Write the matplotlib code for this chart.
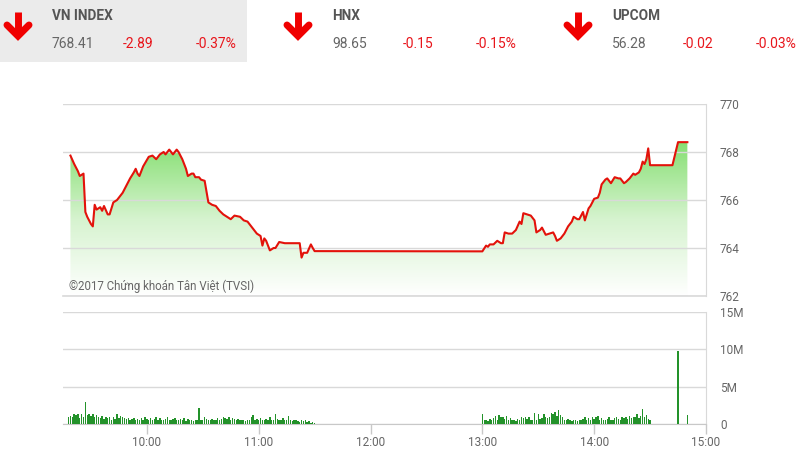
import numpy as np
import pandas as pd
import matplotlib
matplotlib.use("Agg")
import matplotlib.pyplot as plt
from matplotlib.colors import LinearSegmentedColormap

plt.rcParams['font.family'] = ['Roboto', 'DejaVu Sans']

# header quotes
idx_names = ['VN INDEX', 'HNX', 'UPCOM']
idx_values = ['768.41', '98.65', '56.28']
idx_change = ['-2.89', '-0.15', '-0.02']
idx_pct = ['-0.37%', '-0.15%', '-0.03%']

# VN-Index intraday
price_times = [
    '09:19', '09:21', '09:23', '09:24', '09:26', '09:27', '09:28', '09:30', '09:31', '09:32',
    '09:33', '09:35', '09:36', '09:37', '09:39', '09:40', '09:42', '09:44', '09:45', '09:47',
    '09:49', '09:51', '09:53', '09:54', '09:55', '09:56', '09:58', '10:01', '10:03', '10:05',
    '10:07', '10:09', '10:10', '10:12', '10:14', '10:16', '10:17', '10:19', '10:21', '10:22',
    '10:24', '10:25', '10:26', '10:28', '10:29', '10:31', '10:33', '10:35', '10:37', '10:39',
    '10:41', '10:43', '10:45', '10:47', '10:50', '10:52', '10:54', '10:56', '10:57', '10:59',
    '11:01', '11:02', '11:03', '11:04', '11:06', '11:08', '11:09', '11:11', '11:14', '11:17',
    '11:20', '11:22', '11:23', '11:24', '11:26', '11:28', '11:29', '11:30', '13:00', '13:02',
    '13:03', '13:04', '13:06', '13:08', '13:10', '13:11', '13:12', '13:14', '13:16', '13:18',
    '13:20', '13:21', '13:22', '13:24', '13:26', '13:28', '13:29', '13:31', '13:32', '13:34',
    '13:36', '13:38', '13:39', '13:40', '13:42', '13:44', '13:46', '13:48', '13:49', '13:51',
    '13:52', '13:54', '13:55', '13:56', '13:57', '13:58', '14:00', '14:02', '14:03', '14:04',
    '14:06', '14:07', '14:09', '14:11', '14:13', '14:14', '14:16', '14:17', '14:19', '14:21',
    '14:22', '14:24', '14:25', '14:26', '14:27', '14:28', '14:29', '14:30', '14:42', '14:45',
    '14:50',
]
price_values = [
    767.85, 767.5, 767.2, 767.0, 767.1, 765.5, 765.3, 765.0, 764.9, 765.8,
    765.6, 765.7, 765.55, 765.75, 765.4, 765.4, 765.9, 766.0, 766.1, 766.3,
    766.6, 766.9, 767.15, 767.3, 767.1, 767.0, 767.4, 767.8, 767.85, 767.7,
    767.9, 768.0, 767.9, 768.1, 767.9, 768.1, 768.0, 767.7, 767.3, 767.0,
    767.1, 767.1, 766.95, 766.95, 766.85, 766.8, 765.9, 765.8, 765.75, 765.55,
    765.4, 765.3, 765.2, 765.35, 765.3, 765.15, 765.1, 764.9, 764.8, 764.6,
    764.5, 764.1, 764.4, 764.3, 763.9, 764.0, 764.0, 764.25, 764.2, 764.2,
    764.2, 764.2, 763.6, 763.8, 763.8, 764.15, 764.0, 763.87, 763.86, 764.1,
    764.05, 764.15, 764.15, 764.3, 764.2, 764.2, 764.65, 764.6, 764.6, 764.75,
    765.1, 765.0, 765.45, 765.4, 765.35, 765.15, 764.65, 764.75, 764.85, 764.55,
    764.6, 764.65, 764.5, 764.3, 764.4, 764.6, 764.9, 765.1, 765.3, 765.2,
    765.2, 765.5, 765.15, 765.4, 765.65, 765.75, 766.05, 766.1, 766.3, 766.65,
    766.85, 766.9, 766.7, 766.95, 766.9, 766.9, 766.7, 766.75, 766.9, 767.1,
    767.05, 767.15, 767.3, 767.6, 767.5, 767.7, 768.15, 767.45, 767.45, 768.41,
    768.41,
]

# volume per minute (millions of shares)
vol_am_start = '09:18'
vol_am = [
    1.0, 1.1, 0.9, 1.3, 1.2, 1.4, 0.8, 1.3, 1.0, 3.0, 1.2, 1.3, 1.1,
    1.3, 1.0, 1.2, 0.9, 0.8, 1.1, 0.7, 0.9, 0.8, 1.0, 0.6, 0.9, 0.7, 1.3, 0.8,
    1.1, 0.9, 0.8, 0.7, 0.8, 0.6, 0.7, 0.8, 0.6, 0.7, 0.5, 0.8, 0.6, 0.9, 0.7,
    0.6, 0.8, 0.5, 0.7, 0.9, 0.6, 0.8, 0.5, 0.6, 0.7, 0.9, 0.5, 0.6, 0.7, 0.8,
    0.6, 0.5, 0.7, 0.6, 0.8, 0.4, 0.7, 0.6, 0.5, 0.4, 0.6, 0.5, 2.1, 0.5, 0.6,
    0.9, 0.7, 0.5, 0.6, 0.7, 0.5, 0.6, 0.8, 0.6, 0.7, 0.9, 0.8, 0.7, 1.0, 0.6,
    0.8, 0.7, 0.6, 0.7, 0.5, 0.6, 0.5, 0.4, 0.6, 0.5, 1.0, 1.2, 0.6, 0.7, 0.5,
    0.8, 0.6, 0.5, 0.7, 0.6, 0.9, 0.5, 0.6, 1.3, 0.7, 0.5, 0.6, 0.8, 0.5, 0.6,
    1.1, 0.5, 0.4, 0.6, 0.5, 0.4, 0.3, 0.5, 0.4, 0.6, 0.3, 0.4, 0.2, 0.3, 0.2,
]
vol_pm_start = '13:00'
vol_pm = [
    1.3, 0.5, 0.6, 0.4, 0.7, 0.5, 0.8, 1.1, 0.6, 1.2, 0.9, 1.0, 0.7, 1.1, 0.6, 0.8,
    0.5, 0.6, 0.4, 0.7, 0.6, 0.9, 0.8, 1.0, 0.7, 0.9, 0.6, 0.5, 1.5, 0.6, 1.3,
    0.7, 0.8, 1.4, 0.9, 0.8, 1.0, 1.5, 1.3, 1.6, 1.1, 1.9, 1.2, 0.9, 0.6, 0.5,
    0.7, 0.5, 0.4, 0.6, 0.5, 0.4, 0.6, 0.5, 0.7, 0.9, 0.6, 0.8, 0.5, 1.0, 0.7,
    0.9, 1.1, 0.6, 0.8, 0.5, 0.6, 0.7, 0.9, 0.6, 0.5, 0.8, 1.0, 0.7, 0.6, 0.9,
    0.8, 1.0, 0.7, 1.1, 0.8, 0.9, 1.0, 1.3, 0.8, 1.1, 2.0, 0.9, 1.2, 0.7, 0.6,
]
vol_atc_times = ['14:45', '14:50']
vol_atc = [9.8, 1.2]

hour_ticks = ['10:00', '11:00', '12:00', '13:00', '14:00', '15:00']
price_ticks = [762, 764, 766, 768, 770]
vol_ticks = [0, 5, 10, 15]
vol_tick_labels = ['0', '5M', '10M', '15M']
credit = '©2017 Chứng khoán Tân Việt (TVSI)'


def to_min(t):
    h, m = t.split(':')
    return (int(h) - 9) * 60 + int(m)


px = np.array([to_min(t) for t in price_times], dtype=float)
py = np.array(price_values)
vx = np.concatenate([to_min(vol_am_start) + np.arange(len(vol_am)),
                     to_min(vol_pm_start) + np.arange(len(vol_pm)),
                     [to_min(t) for t in vol_atc_times]]).astype(float)
vy = np.concatenate([vol_am, vol_pm, vol_atc])

W, H = 800, 455
fig = plt.figure(figsize=(8, 4.55), dpi=100)

# header overlay in pixel units
ov = fig.add_axes([0, 0, 1, 1])
ov.set_xlim(0, W)
ov.set_ylim(H, 0)
ov.axis('off')
ov.add_patch(plt.Rectangle((0, 0), 247, 62, color='#ebebeb', lw=0))
red = '#e8151b'
for i in range(3):
    x0 = 18 + i * 280
    ov.plot([x0, x0], [12, 35], color='#f00000', lw=5, solid_capstyle='butt')
    ov.plot([x0 - 11, x0, x0 + 11], [25, 36, 25], color='#f00000', lw=5,
            solid_capstyle='round', solid_joinstyle='miter')
    tx = 52 + i * 280
    ov.text(tx, 16, idx_names[i], fontsize=9.8, fontweight='bold', color='#555555',
            va='center', ha='left')
    ov.text(tx, 44, idx_values[i], fontsize=10, color='#666666', va='center', ha='left')
    ov.text(tx + 71, 44, idx_change[i], fontsize=10, color=red, va='center', ha='left')
    ov.text(tx + 144, 44, idx_pct[i], fontsize=10, color=red, va='center', ha='left')

grid_c = '#d9d9d9'
lab_c = '#666666'
x_lo, x_hi = 15, 360

# price panel
ax = fig.add_axes([63 / W, 1 - 296 / H, (706 - 63) / W, (296 - 104) / H])
ax.set_facecolor('none')
ax.set_xlim(x_lo, x_hi)
ax.set_ylim(762, 770)
cmap = LinearSegmentedColormap.from_list('g', ['#ffffff', '#d6f3cf', '#86df72'])
grad = np.linspace(0, 1, 256).reshape(-1, 1)
im = ax.imshow(grad, cmap=cmap, origin='lower', aspect='auto',
               extent=[x_lo, x_hi, 762, py.max()], zorder=1)
poly = ax.fill_between(px, py, 762, color='none', lw=0)
im.set_clip_path(poly.get_paths()[0], transform=ax.transData)
ax.plot(px, py, color='#e3120b', lw=1.5, zorder=3)
ax.set_yticks(price_ticks)
ax.set_xticks([])
ax.yaxis.tick_right()
ax.tick_params(axis='y', length=0, pad=10, labelsize=8.5, labelcolor=lab_c)
ax.grid(axis='y', color=grid_c, lw=1)
ax.axhline(762, color=grid_c, lw=1.2, clip_on=False, zorder=2)
for s in ['left', 'top', 'bottom']:
    ax.spines[s].set_visible(False)
ax.spines['right'].set_color(grid_c)
ax.text(18, 762.4, credit, fontsize=8.3, color=lab_c, ha='left', va='center', zorder=4)

# volume panel
av = fig.add_axes([63 / W, 1 - 424 / H, (706 - 63) / W, (424 - 312) / H])
av.set_facecolor('none')
av.bar(vx, vy, width=0.75, color='#23922a', lw=0, zorder=3)
av.set_xlim(x_lo, x_hi)
av.set_ylim(0, 15)
av.set_yticks(vol_ticks)
av.set_yticklabels(vol_tick_labels)
av.yaxis.tick_right()
av.set_xticks([to_min(t) for t in hour_ticks])
av.set_xticklabels(hour_ticks)
av.tick_params(axis='y', length=0, pad=10, labelsize=8.5, labelcolor=lab_c)
av.tick_params(axis='x', length=7, width=1, color='#c8c8c8', pad=2,
               labelsize=8.5, labelcolor=lab_c)
av.grid(axis='y', color=grid_c, lw=1)
for s in ['left', 'top']:
    av.spines[s].set_visible(False)
av.spines['right'].set_color(grid_c)
av.spines['bottom'].set_color('#c8c8c8')

fig.savefig('out.png', dpi=100)
